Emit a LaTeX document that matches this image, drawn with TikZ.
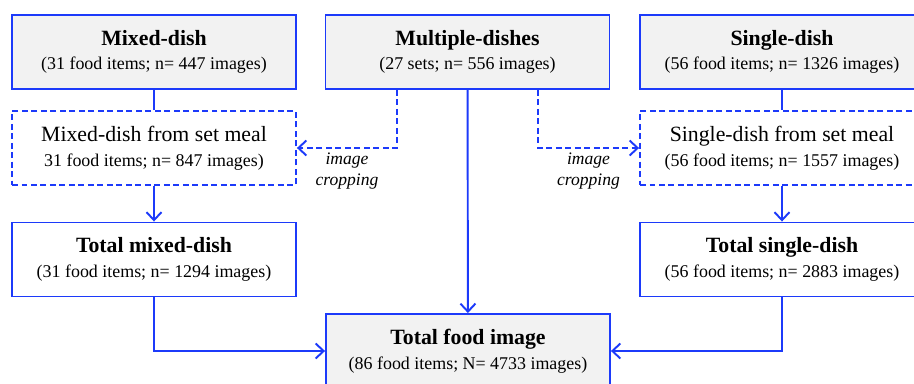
\documentclass[tikz,border=0pt]{standalone}
\usepackage{fontspec}
\setmainfont{Liberation Serif}
\usepackage{xcolor}
\usepackage{tikz}
\usetikzlibrary{positioning,calc,arrows.meta}
\definecolor{flowBlue}{RGB}{28,58,250}
\definecolor{boxGray}{RGB}{242,242,242}
\newcommand{\boxTitle}[1]{{\fontsize{12.4}{14}\selectfont\bfseries #1}}
\newcommand{\boxPlain}[1]{{\fontsize{12.4}{14}\selectfont #1}}
\newcommand{\boxCount}[1]{{\fontsize{10.2}{12}\selectfont #1}}
\tikzset{
  grayBox/.style={
    rectangle,
    draw=flowBlue,
    line width=1.1pt,
    fill=boxGray,
    minimum width=5.68cm,
    minimum height=1.48cm,
    inner sep=0pt,
    align=center
  },
  whiteBox/.style={
    grayBox,
    fill=white
  },
  dashBox/.style={
    whiteBox,
    dash pattern=on 3.4pt off 2pt
  },
  plainLine/.style={
    draw=flowBlue,
    line width=1.1pt
  },
  arrowLine/.style={
    plainLine,
    -{Straight Barb[length=1.6mm,width=3mm]}
  },
  dashArrow/.style={
    arrowLine,
    dash pattern=on 3.4pt off 2pt
  },
  cropLabel/.style={
    font=\fontsize{10}{12}\selectfont\itshape,
    align=center,
    inner sep=2pt
  }
}
\begin{document}
\begin{tikzpicture}[x=0.02cm,y=-0.02cm]
        \clip (0,0) rectangle (914,383);

        \node[grayBox] (mixed) at (154,52) {\boxTitle{Mixed-dish}\\[2pt]\boxCount{(31 food items; n= 447 images)}};
        \node[grayBox] (multi) at (467.5,52) {\boxTitle{Multiple-dishes}\\[2pt]\boxCount{(27 sets; n= 556 images)}};
        \node[grayBox] (single) at (782,52) {\boxTitle{Single-dish}\\[2pt]\boxCount{(56 food items; n= 1326 images)}};

        \node[dashBox] (mixedSet) at (154,148) {\boxPlain{Mixed-dish from set meal}\\[2pt]\boxCount{31 food items; n= 847 images)}};
        \node[dashBox] (singleSet) at (782,148) {\boxPlain{Single-dish from set meal}\\[2pt]\boxCount{(56 food items; n= 1557 images)}};

        \node[whiteBox] (totalMixed) at (154,259.5) {\boxTitle{Total mixed-dish}\\[2pt]\boxCount{(31 food items; n= 1294 images)}};
        \node[whiteBox] (totalSingle) at (782,259.5) {\boxTitle{Total single-dish}\\[2pt]\boxCount{(56 food items; n= 2883 images)}};

        \node[grayBox] (total) at (468,351) {\boxTitle{Total food image}\\[2pt]\boxCount{(86 food items; N= 4733 images)}};

        % left branch
        \draw[plainLine] (mixed) -- (mixedSet);
        \draw[arrowLine] (mixedSet) -- (totalMixed);
        \draw[arrowLine] (totalMixed.south) |- (total.west);

        % right branch
        \draw[plainLine] (single) -- (singleSet);
        \draw[arrowLine] (singleSet) -- (totalSingle);
        \draw[arrowLine] (totalSingle.south) |- (total.east);

        % cropping of set meals
        \draw[dashArrow] ([xshift=-1.41cm]multi.south) |- node[cropLabel, pos=0.75, below] {image\\cropping} (mixedSet.east);
        \draw[dashArrow] ([xshift=1.41cm]multi.south) |- node[cropLabel, pos=0.75, below] {image\\cropping} (singleSet.west);
        \draw[arrowLine] (multi) -- (total);

    \end{tikzpicture}
\end{document}
